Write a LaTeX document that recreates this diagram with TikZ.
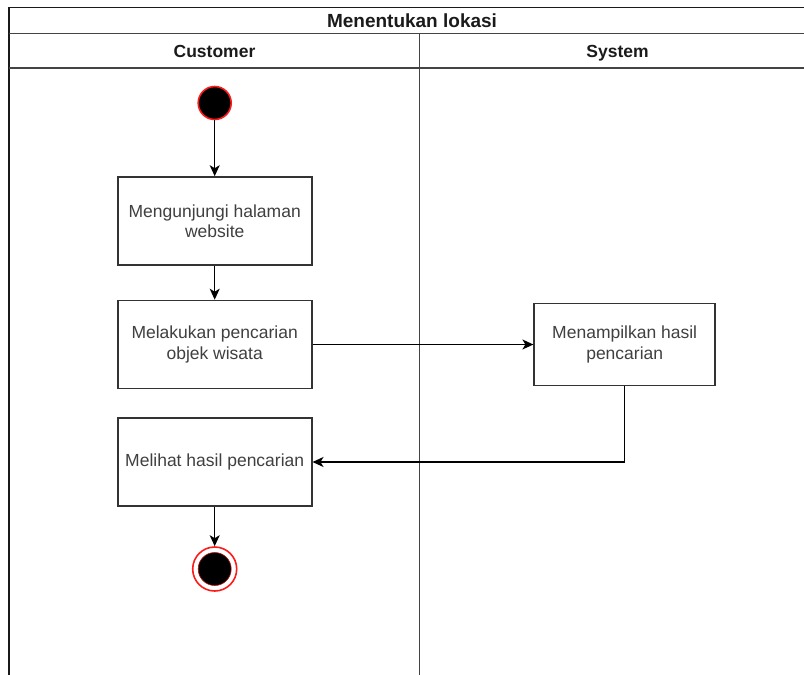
\documentclass[tikz,border=0pt]{standalone}
\usepackage{fontspec}
\setmainfont{Liberation Sans}
\usetikzlibrary{arrows.meta}

\definecolor{framecol}{HTML}{1A1A1A}
\definecolor{lanecol}{HTML}{444444}
\definecolor{boxcol}{HTML}{333333}
\definecolor{txtcol}{HTML}{404040}
\definecolor{nodered}{HTML}{FF1A1A}

\tikzset{
  frame/.style={draw=framecol, line width=1.8pt},
  laneline/.style={draw=lanecol, line width=1.8pt},
  heading/.style={font=\bfseries\fontsize{17.5}{20}\selectfont, text=framecol,
    inner sep=0pt, anchor=base},
  act/.style={draw=boxcol, line width=1.6pt, fill=white, align=center,
    font=\fontsize{17.5}{20.5}\selectfont, text=txtcol, inner sep=0pt,
    minimum width=194pt, minimum height=88pt},
  flow/.style={draw=black, line width=1.4pt, -{Stealth[length=11pt,width=10pt,inset=3pt]}},
}

\begin{document}
\begin{tikzpicture}[x=1pt,y=-1pt]
\useasboundingbox (0,0) rectangle (804,675);
\clip (0,0) rectangle (804,675);

% pool frame and lanes
\draw[frame] (9,700) -- (9,7.5) -- (815,7.5) -- (815,700);
\draw[laneline] (9,33.5) -- (815,33.5);
\draw[laneline] (9,68) -- (815,68);
\draw[laneline] (419.5,33.5) -- (419.5,700);

\node[heading, font=\bfseries\fontsize{19}{22}\selectfont] (pooltitle) at (412,27) {Menentukan lokasi};
\node[heading] (lanecust) at (214.5,57.5) {Customer};
\node[heading] (lanesys) at (617.5,57.5) {System};

% start state
\node[circle, fill=black, draw=nodered, line width=1.6pt, minimum size=33pt, inner sep=0pt] (start) at (214.7,103) {};

% activities
\node[act] (visit)  at (214.7,221) {Mengunjungi halaman\\website};
\node[act] (search) at (214.7,344.5) {Melakukan pencarian\\objek wisata};
\node[act, minimum width=181pt, minimum height=82pt] (show) at (624.7,344.5) {Menampilkan hasil\\pencarian};
\node[act] (view)   at (214.7,462) {Melihat hasil pencarian};

% final state
\node[circle, draw=nodered, line width=1.6pt, minimum size=44pt, inner sep=0pt] (finish) at (214.7,569) {};
\node[circle, fill=black, draw=nodered!70!black, line width=0.6pt, minimum size=33pt, inner sep=0pt] (finishdot) at (finish.center) {};

% transitions
\draw[flow] (start) -- (visit);
\draw[flow] (visit) -- (search);
\draw[flow] (search) -- (show);
\draw[flow] (show.south) |- (view.east);
\draw[flow] (view) -- (finish);
\end{tikzpicture}
\end{document}
